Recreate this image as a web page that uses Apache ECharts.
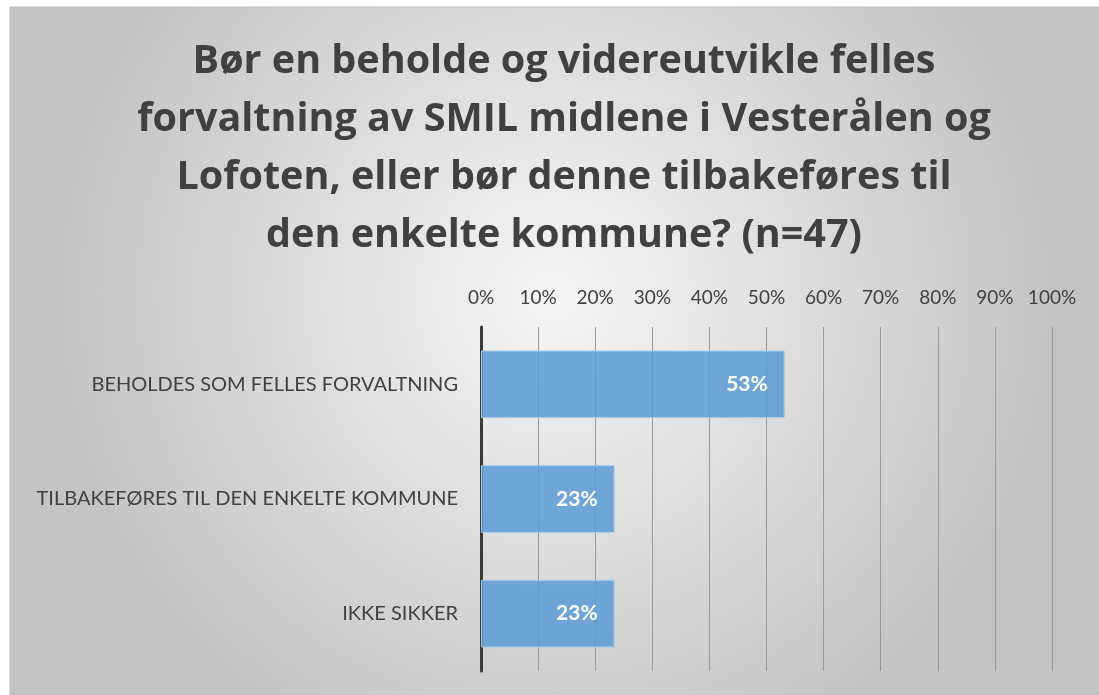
<!DOCTYPE html>
<html>
<head>
<meta charset="utf-8">
<script src="https://cdn.jsdelivr.net/npm/echarts@6/dist/echarts.min.js"></script>
<style>
  html, body { margin: 0; padding: 0; background: #fff; }
  #chart { width: 1099px; height: 695px; }
</style>
</head>
<body>
<div id="chart"></div>
<script>
// svar (n=47)
var categories = ['BEHOLDES SOM FELLES FORVALTNING', 'TILBAKEFØRES TIL DEN ENKELTE KOMMUNE', 'IKKE SIKKER'];
var shares = [53.19, 23.40, 23.40];
var tickLabels = ['0%', '10%', '20%', '30%', '40%', '50%', '60%', '70%', '80%', '90%', '100%'];

var chart = echarts.init(document.getElementById('chart'));
var font = 'Lato, "Open Sans", sans-serif';

chart.setOption({
  animation: false,
  graphic: [{
    type: 'rect',
    z: -10,
    shape: { x: 10, y: 7, width: 1089, height: 688 },
    style: {
      fill: {
        type: 'radial', x: 0.5, y: 0.42, r: 0.72,
        colorStops: [
          { offset: 0, color: '#f6f6f6' },
          { offset: 1, color: '#c4c4c4' }
        ]
      },
      stroke: '#bdbdbd',
      lineWidth: 1
    }
  }],
  title: {
    text: 'Bør en beholde og videreutvikle felles\nforvaltning av SMIL midlene i Vesterålen og\nLofoten, eller bør denne tilbakeføres til\nden enkelte kommune? (n=47)',
    left: 559,
    top: 28,
    textAlign: 'center',
    textStyle: {
      fontFamily: '"Open Sans", Lato, sans-serif',
      fontWeight: 'bold',
      fontSize: 39.5,
      lineHeight: 58,
      color: '#404040'
    }
  },
  grid: { left: 481, right: 47, top: 327, bottom: 24 },
  xAxis: {
    type: 'value',
    position: 'top',
    min: 0,
    max: 100,
    interval: 10,
    axisLine: { show: false },
    axisTick: { show: false },
    axisLabel: {
      margin: 20,
      fontFamily: font,
      fontSize: 19,
      color: '#404040',
      formatter: function (v) { return tickLabels[Math.round(v / 10)]; }
    },
    splitLine: { lineStyle: { color: '#9a9a9a', width: 1 } }
  },
  yAxis: {
    type: 'category',
    data: categories,
    inverse: true,
    axisLine: { lineStyle: { color: '#3a3a3a', width: 3 } },
    axisTick: { show: false },
    axisLabel: {
      margin: 23,
      fontFamily: font,
      fontSize: 20,
      color: '#404040'
    }
  },
  series: [{
    type: 'bar',
    data: shares,
    barWidth: '59%',
    itemStyle: {
      color: 'rgba(91,155,213,0.85)',
      borderColor: '#a9cbea',
      borderWidth: 1
    },
    label: {
      show: true,
      position: 'insideRight',
      offset: [-12, 0],
      fontFamily: font,
      fontWeight: 'bold',
      fontSize: 21,
      color: '#fff',
      formatter: function (p) { return Math.round(p.value) + '%'; }
    }
  }]
});
</script>
</body>
</html>
